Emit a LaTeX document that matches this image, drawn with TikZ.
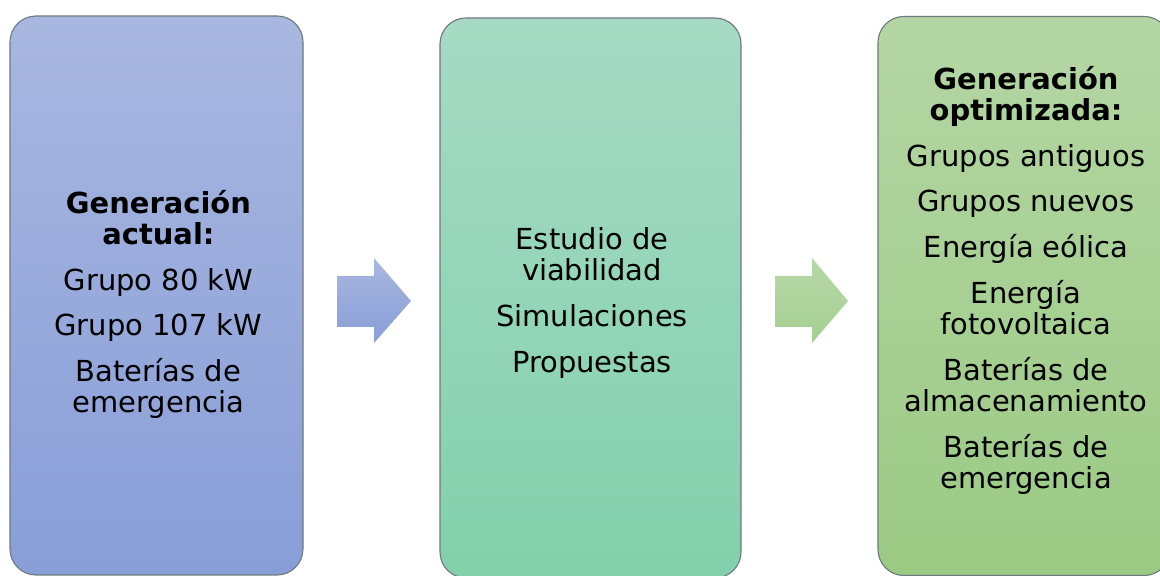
\documentclass[tikz,border=0pt]{standalone}
\usepackage{fontspec}
\setmainfont{DejaVu Sans}
\definecolor{azultop}{HTML}{A9B7E0}
\definecolor{azulbot}{HTML}{889ED8}
\definecolor{aguatop}{HTML}{A6DAC4}
\definecolor{aguabot}{HTML}{82D0AC}
\definecolor{verdetop}{HTML}{B4D6A4}
\definecolor{verdebot}{HTML}{9BCA84}
\definecolor{borde}{HTML}{6E7A80}
\tikzset{
  caja/.style={draw=borde, line width=0.8pt, rounded corners=0.65cm,
    inner sep=0pt, outer sep=0pt, minimum height=13.975cm},
  texto/.style={align=center, inner sep=0pt,
    font=\fontsize{20.6pt}{22.4pt}\selectfont},
}
\begin{document}
\begin{tikzpicture}
    \useasboundingbox (0,0) rectangle (29,14.4);
    % cajas
    \node[caja, top color=azultop, bottom color=azulbot, minimum width=7.325cm] (actual) at (3.9125,7.0125) {};
    \node[caja, top color=aguatop, bottom color=aguabot, minimum width=7.525cm, minimum height=14.0cm] (estudio) at (14.7625,6.95) {};
    \node[caja, top color=verdetop, bottom color=verdebot, minimum width=7.3cm] (optima) at (25.6,7.0) {};
    % flechas
    \shade[top color=azultop, bottom color=azulbot] (8.425,7.5) -- (9.35,7.5) -- (9.35,7.95) -- (10.275,6.875)
        -- (9.35,5.825) -- (9.35,6.225) -- (8.425,6.225) -- cycle;
    \shade[top color=verdetop!95!white, bottom color=verdebot!90!white] (19.375,7.5) -- (20.3,7.5) -- (20.3,7.95) -- (21.2,6.875)
        -- (20.3,5.825) -- (20.3,6.225) -- (19.375,6.225) -- cycle;
    % textos
    \node[texto] (tactual) at (3.96,6.79) {\textbf{Generación}\\\textbf{actual:}\\[10pt]
        Grupo 80 kW\\[10pt]Grupo 107 kW\\[10pt]Baterías de\\emergencia};
    \node[texto] (testudio) at (14.8,6.83) {Estudio de\\viabilidad\\[10pt]
        Simulaciones\\[10pt]Propuestas};
    \node[texto] (toptima) at (25.65,7.39) {\textbf{Generación}\\\textbf{optimizada:}\\[10pt]
        Grupos antiguos\\[10pt]Grupos nuevos\\[10pt]Energía eólica\\[10pt]Energía\\fotovoltaica\\[10pt]
        Baterías de\\almacenamiento\\[10pt]Baterías de\\emergencia};
\end{tikzpicture}
\end{document}
